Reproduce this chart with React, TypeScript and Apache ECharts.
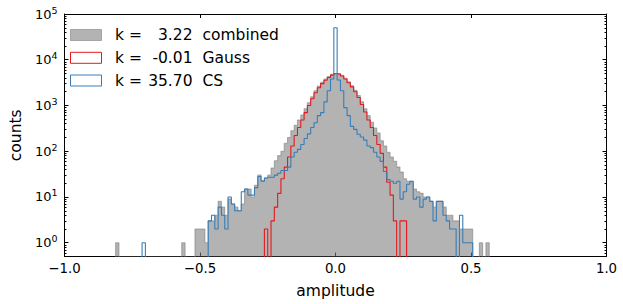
import React, { useEffect, useRef } from 'react';
import * as echarts from 'echarts';

// ---- data (histogram counts per bin) ----
const BIN_WIDTH = 0.0122;
const FIRST_BIN_LEFT = -0.8113; // left edge of the first bin

// combined (k = 3.22)
const combinedCounts = [
  1,
  0, 0, 0, 0, 0, 0, 0, 0, 0, 0, 0, 0, 0, 0, 0, 0, 0, 0, 0,
  1,
  0, 0, 0,
  2, 2, 2, 1, 3, 3, 4, 8, 6, 4, 9, 7, 6, 5, 7, 15, 15, 10, 18, 30, 23, 26, 30, 43, 62, 80, 100, 150, 200, 280,
  370, 480, 620, 850, 1150, 1550, 2100, 2650, 3200, 3800, 4300, 4800,
  5000,
  4950, 4550, 3950, 3300, 2700, 2150, 1650, 1200, 850, 600, 430, 320,
  250, 170, 130, 95, 75, 60, 45, 35, 25, 22, 22, 15, 13, 12, 10, 10, 8, 6, 8, 8, 6, 4, 4, 3, 3, 2, 2, 2, 2, 0, 0, 1, 0, 1,
];

// Gauss (k = -0.01)
const gaussCounts = [
  0, 0, 0, 0, 0, 0, 0, 0, 0, 0, 0, 0, 0, 0, 0, 0, 0, 0, 0, 0, 0, 0, 0, 0, 0,
  0, 0, 0, 0, 0, 0, 0, 0, 0, 0, 0, 0, 0, 0, 0, 0, 0, 0, 0, 0,
  2, 0, 3, 6, 12, 25, 45, 75, 130, 220, 330, 480, 700, 1000, 1400, 1900, 2450, 3000, 3550, 4100, 4600,
  4950,
  4850, 4400, 3800, 3150, 2550, 2000, 1500, 1050, 720, 480, 330, 220, 140, 90, 45, 21, 11, 3, 0, 3, 3,
  0, 0, 0, 0, 0, 0, 0, 0, 0, 0, 0, 0, 0, 0, 0, 0, 0, 0, 0, 0, 0, 0, 0, 0, 0,
];

// CS (k = 35.70)
const csCounts = [
  0, 0, 0, 0, 0, 0, 0, 0,
  1,
  0, 0, 0, 0, 0, 0, 0, 0, 0, 0, 0, 0, 0, 0, 0, 0, 0, 0, 0,
  3, 4, 2, 6, 4, 2, 10, 7, 5, 5, 13, 15, 11, 11, 16, 28, 22, 26, 27, 27, 30, 33, 38, 38, 45, 75, 95, 110, 140, 190,
  240, 330, 420, 600, 700, 1200, 2100, 3800,
  50000,
  3600, 2100, 900, 600, 350, 300, 235, 205, 175, 130, 120, 95, 75, 60, 36, 24, 22, 20, 22, 9,
  13, 19, 22, 9, 10, 6, 9, 10, 8, 3, 8, 8, 4, 3, 2, 2, 0, 4, 1, 1, 1,
  0, 0, 0, 0, 0,
];

const seriesNames = ['combined', 'Gauss', 'CS'];
const kurtosisLabels = ['3.22', '-0.01', '35.70'];
const seriesColors = ['rgba(128,128,128,0.6)', '#e41a1c', '#377eb8'];
const xMin = -1;
const xMax = 1;
const xInterval = 0.5;
const yMin = 0.5;
const yMax = 100000;
const xAxisTitle = 'amplitude';
const yAxisTitle = 'counts';

const FONT = 'DejaVu Sans';

function stepPoints(counts: number[]): [number, number][] {
  const FLOOR = 0.3; // below the axis minimum, clipped away
  const pts: [number, number][] = [[FIRST_BIN_LEFT, FLOOR]];
  counts.forEach((c, i) => pts.push([FIRST_BIN_LEFT + i * BIN_WIDTH, c > 0 ? c : FLOOR]));
  pts.push([FIRST_BIN_LEFT + counts.length * BIN_WIDTH, FLOOR]);
  return pts;
}

function minorLogTicks(): number[] {
  const out: number[] = [];
  for (let d = -1; d <= 4; d++) {
    for (let m = 2; m <= 9; m++) {
      const v = m * Math.pow(10, d);
      if (v > yMin && v < yMax) out.push(v);
    }
  }
  return out;
}

const fmtX = (v: number) => (v < 0 ? '\u2212' : '') + Math.abs(v).toFixed(1);
const fmtY = (v: number) => {
  const l = Math.log10(v);
  const e = Math.round(l);
  if (Math.abs(l - e) > 1e-6) return '';
  return `{b|10}{s|${e}}`;
};

export default function App() {
  const ref = useRef<HTMLDivElement>(null);
  useEffect(() => {
    if (!ref.current) return;
    const chart = echarts.init(ref.current, undefined, { renderer: 'svg' });
    const black = '#000';
    const tickMajor = { show: true, inside: true, length: 4, lineStyle: { color: black, width: 1 } };
    const tickMinor = { show: true, inside: true, length: 2, lineStyle: { color: black, width: 1 }, customValues: minorLogTicks() };
    const axisLine = { show: true, onZero: false, lineStyle: { color: black, width: 1 } };
    const noLine = { show: false, onZero: false };
    const yBase = { type: 'log' as const, logBase: 10, min: yMin, max: yMax, splitLine: { show: false } };
    const xBase = { type: 'value' as const, min: xMin, max: xMax, interval: xInterval, splitLine: { show: false } };

    const legendRows = [29.5, 52.3, 75];
    const graphic: any[] = [];
    seriesNames.forEach((name, i) => {
      const y = legendRows[i];
      graphic.push({
        type: 'rect',
        shape: { x: 70.5, y, width: 31, height: 11 },
        style: i === 0
          ? { fill: seriesColors[0], stroke: seriesColors[0], lineWidth: 1 }
          : { fill: 'none', stroke: seriesColors[i], lineWidth: 1 },
      });
      const cy = y + 5.8;
      const ts = { fontFamily: FONT, fontSize: 15.5, fill: black, verticalAlign: 'middle' };
      graphic.push({ type: 'text', x: 115, y: cy, style: { ...ts, text: 'k =', align: 'left' } });
      graphic.push({ type: 'text', x: 192.5, y: cy, style: { ...ts, text: kurtosisLabels[i], align: 'right' } });
      graphic.push({ type: 'text', x: 202.5, y: cy, style: { ...ts, text: name, align: 'left' } });
    });

    const countsList = [combinedCounts, gaussCounts, csCounts];

    chart.setOption({
      animation: false,
      backgroundColor: '#fff',
      grid: { left: 56.5, right: 16.5, top: 14, bottom: 47.5, containLabel: false },
      xAxis: [
        {
          ...xBase,
          position: 'bottom',
          axisLine,
          axisTick: tickMajor,
          axisLabel: { show: true, formatter: fmtX, color: black, fontFamily: FONT, fontSize: 13.3, margin: 5 },
          name: xAxisTitle,
          nameLocation: 'middle',
          nameGap: 26,
          nameTextStyle: { color: black, fontFamily: FONT, fontSize: 15.5 },
        },
        { ...xBase, position: 'top', axisLine, axisTick: tickMajor, axisLabel: { show: false } },
      ],
      yAxis: [
        {
          ...yBase,
          position: 'left',
          axisLine,
          axisTick: tickMajor,
          axisLabel: {
            show: true,
            formatter: fmtY,
            margin: 7,
            color: black,
            rich: {
              b: { fontFamily: FONT, fontSize: 13, color: black, lineHeight: 18 },
              s: { fontFamily: FONT, fontSize: 9.5, color: black, verticalAlign: 'top', lineHeight: 10 },
            },
          },
          name: yAxisTitle,
          nameLocation: 'middle',
          nameGap: 28,
          nameTextStyle: { color: black, fontFamily: FONT, fontSize: 15.5 },
        },
        { ...yBase, position: 'left', axisLine: noLine, axisTick: tickMinor, axisLabel: { show: false } },
        { ...yBase, position: 'right', axisLine, axisTick: tickMajor, axisLabel: { show: false } },
        { ...yBase, position: 'right', axisLine: noLine, axisTick: tickMinor, axisLabel: { show: false } },
      ],
      series: countsList.map((counts, i) => ({
        type: 'line',
        name: seriesNames[i],
        xAxisIndex: 0,
        yAxisIndex: 0,
        data: stepPoints(counts),
        step: 'end',
        symbol: 'none',
        showSymbol: false,
        silent: true,
        clip: true,
        z: 2 + i,
        lineStyle: { color: seriesColors[i], width: 1.1 },
        areaStyle: i === 0 ? { color: seriesColors[0], opacity: 1, origin: 'start' } : undefined,
      })),
      graphic,
    });
    return () => chart.dispose();
  }, []);
  return <div ref={ref} style={{ position: 'fixed', left: 0, top: 0, width: 623, height: 304 }} />;
}
